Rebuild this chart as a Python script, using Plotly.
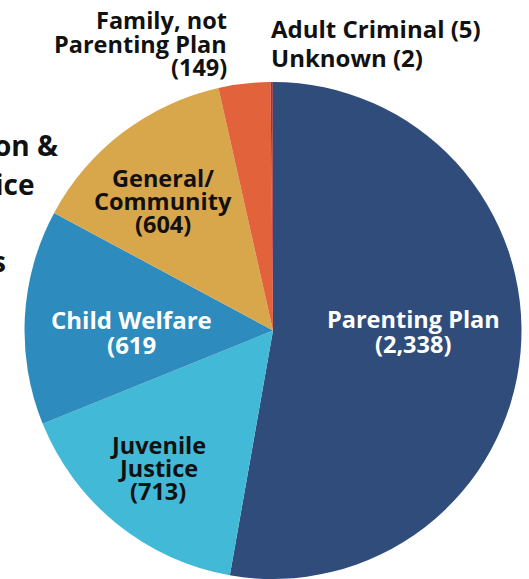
import plotly.graph_objects as go

categories = ["Parenting Plan", "Juvenile Justice", "Child Welfare", "General/Community",
              "Family, not Parenting Plan", "Adult Criminal", "Unknown"]
values = [2338, 713, 619, 604, 149, 5, 2]
colors = ["#2F4C7B", "#42B9D7", "#2E8BBE", "#D8A64B", "#E2623B", "#C8232C", "#7A1F2B"]

# label text lines as printed on the chart
label_lines = {
    "Parenting Plan": ["Parenting Plan", "(2,338)"],
    "Juvenile Justice": ["Juvenile", "Justice", "(713)"],
    "Child Welfare": ["Child Welfare", "(619"],
    "General/Community": ["General/", "Community", "(604)"],
    "Family, not Parenting Plan": ["Family, not", "Parenting Plan", "(149)"],
    "Adult Criminal": ["Adult Criminal (5)"],
    "Unknown": ["Unknown (2)"],
}
# fragments of slide text visible at the left edge
side_text = ["on &", "ice", "s"]

W, H = 529, 579

cx = 273
top = 82
r = (H - top) / 2  # pie fills from top to bottom edge
fig = go.Figure(go.Pie(
    labels=categories, values=values, sort=False, direction="clockwise", rotation=0,
    marker=dict(colors=colors, line=dict(width=0)),
    textinfo="none", hoverinfo="label+value", showlegend=False,
    domain=dict(x=[(cx - r) / W, (cx + r) / W], y=[0, 1 - top / H]),
))

FONT = "Open Sans"

def px(x, y):
    return x / W, 1 - y / H

anns = []

def add_lines(lines, x, y0, step, size, color, align="center"):
    xanchor = {"center": "center", "left": "left", "right": "right"}[align]
    for i, t in enumerate(lines):
        ax, ay = px(x, y0 + i * step)
        anns.append(dict(text=t, x=ax, y=ay, xref="paper", yref="paper", showarrow=False,
                         xanchor=xanchor, yanchor="middle", borderpad=0,
                         font=dict(family=FONT, size=size, color=color, weight=700)))

add_lines(label_lines["Parenting Plan"], 413, 319, 25, 23.5, "white")
add_lines(label_lines["Child Welfare"], 131, 319, 25, 24, "white")
add_lines(label_lines["General/Community"], 163, 178, 23, 23.5, "#111111")
add_lines(label_lines["Juvenile Justice"], 158, 445, 23, 23.5, "#111111")
add_lines(label_lines["Family, not Parenting Plan"], 228, 20, 23.5, 23.5, "#111111", "right")
add_lines(label_lines["Adult Criminal"] + label_lines["Unknown"], 270, 28, 30, 24, "#111111", "left")

for t, y, xr in zip(side_text, [145, 184, 261], [60, 36, 8]):
    ax, ay = px(xr, y)
    anns.append(dict(text=t, x=ax, y=ay, xref="paper", yref="paper", showarrow=False,
                     xanchor="right", yanchor="middle",
                     font=dict(family=FONT, size=28, color="#111111", weight=700)))

fig.update_layout(width=W, height=H, margin=dict(l=0, r=0, t=0, b=0),
                  paper_bgcolor="white", plot_bgcolor="white", annotations=anns)
fig.write_html("out.html", config={"displayModeBar": False},
               post_script="document.body.style.margin='0px';document.body.style.overflow='hidden';")
